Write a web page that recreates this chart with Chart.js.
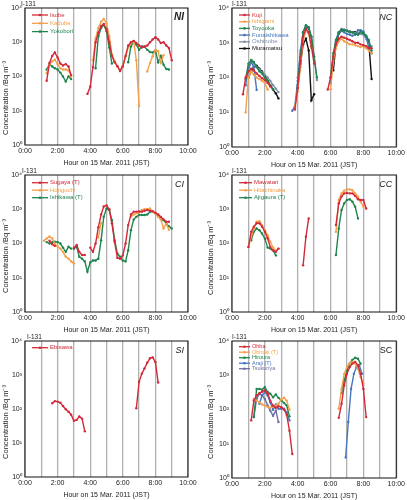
<!DOCTYPE html>
<html>
<head>
<meta charset="utf-8">
<script src="https://cdn.jsdelivr.net/npm/chart.js@4"></script>
<style>
  body { margin: 0; background: #fff; }
  #wrap { position: relative; width: 407px; height: 500px; }
  #wrap canvas { position: absolute; left: 0; top: 0; }
</style>
</head>
<body>
<div id="wrap">
  <canvas id="p1" width="407" height="500"></canvas>
  <canvas id="p2" width="407" height="500"></canvas>
  <canvas id="p3" width="407" height="500"></canvas>
  <canvas id="p4" width="407" height="500"></canvas>
  <canvas id="p5" width="407" height="500"></canvas>
  <canvas id="p6" width="407" height="500"></canvas>
</div>
<script>
// [hour, Bq/m3] pairs, null = break in the record
// NI
var isobe = [[1.33,75],[1.5,250],[1.67,400],[1.83,500],[2,360],[2.17,240],[2.33,210],[2.5,230],[2.67,195],[2.83,110],[3.3,null],[3.83,31],[4,50],[4.17,190],[4.33,1000],[4.5,1900],[4.67,3000],[4.83,3400],[5,2400],[5.17,1000],[5.33,400],[5.5,260],[5.67,200],[5.83,145],[6,200],[6.17,400],[6.33,800],[6.5,1000],[6.67,1100],[6.83,950],[7,800],[7.17,700],[7.33,750],[7.5,800],[7.67,1000],[7.83,1200],[8,1400],[8.17,1200],[8.33,950],[8.5,1000],[8.67,800],[8.83,680],[9,300]];
var kadobe = [[1.33,125],[1.5,220],[1.67,280],[1.83,310],[2,230],[2.17,175],[2.33,160],[2.5,160],[2.67,150],[2.83,100],[3.5,null],[4.17,300],[4.33,1300],[4.5,2600],[4.67,4000],[4.83,4800],[5,3600],[5.17,1500],[5.33,450],[5.5,280],[5.67,200],[5.83,150],[6,190],[6.17,380],[6.33,700],[6.5,950],[6.67,1000],[6.83,300],[7,14],[7.25,null],[7.5,140],[7.67,250],[7.83,390],[8,600],[8.17,550],[8.33,250],[8.5,420]];
var yokobori = [[1.33,160],[1.5,230],[1.67,195],[1.83,175],[2,160],[2.17,130],[2.33,100],[2.5,71],[2.67,100],[2.83,84],[3.5,null],[4.33,175],[4.5,1500],[4.67,2600],[4.83,3250],[5,2100],[5.17,700],[5.33,240],[5.8,null],[6.33,260],[6.5,760],[6.67,1050],[6.83,850],[7,600],[7.17,760],[7.33,740],[7.5,600],[7.67,520],[7.83,500],[8,580],[8.17,260],[8.33,400],[8.5,220],[8.67,165],[8.83,160]];
// NC
var kuji = [[0.67,33],[0.83,100],[1,150],[1.17,180],[1.33,160],[1.5,130],[1.67,110],[1.83,95],[2,85],[2.17,70],[2.33,55],[3,null],[3.83,12],[4,50],[4.17,300],[4.33,1500],[4.5,2500],[4.67,2000],[4.83,800],[5,250],[5.4,null],[5.83,45],[6,100],[6.17,400],[6.33,900],[6.5,1300],[6.67,1500],[6.83,1400],[7,1300],[7.17,1200],[7.33,1100],[7.5,1000],[7.67,1000],[7.83,900],[8,850],[8.17,800],[8.33,700],[8.5,700]];
var ishigami = [[0.83,10],[1,100],[1.17,150],[1.33,120],[1.5,100],[1.67,90],[1.83,80],[2,70],[2.17,45],[3,null],[3.83,15],[4,40],[4.17,200],[4.33,1200],[4.5,2200],[4.67,1800],[4.83,700],[5.4,null],[6,46],[6.17,300],[6.33,700],[6.5,1100],[6.67,1300],[6.83,1100],[7,1000],[7.17,900],[7.33,900],[7.5,850],[7.67,800],[7.83,750],[8,800],[8.17,700],[8.33,600],[8.5,500]];
var toyooka = [[0.83,90],[1,250],[1.17,320],[1.33,280],[1.5,200],[1.67,150],[1.83,130],[2,100],[2.17,80],[2.33,60],[2.5,45],[3,null],[4,60],[4.17,400],[4.33,2000],[4.5,3200],[4.67,2800],[4.83,1500],[5,400],[5.17,100],[5.5,null],[6,100],[6.17,500],[6.33,1200],[6.5,2000],[6.67,2400],[6.83,2300],[7,2200],[7.17,2000],[7.33,2000],[7.5,1800],[7.67,1700],[7.83,2100],[8,1900],[8.17,1600],[8.33,1200],[8.5,600]];
var funaishikawa = [[0.83,60],[1,200],[1.17,270],[1.33,200],[1.5,44],[3,null],[3.67,11],[3.83,15],[4,80],[4.17,600],[4.33,2000],[4.5,2800],[4.67,2500],[4.83,1500],[5,300],[5.5,null],[6,70],[6.17,400],[6.33,1100],[6.5,1800],[6.67,2200],[6.83,2000],[7,1800],[7.17,1700],[7.33,1600],[7.5,1700],[7.67,2300],[7.83,2300],[8,2100],[8.17,1500],[8.33,700],[8.5,500]];
var oshinobe = [[1,150],[1.17,300],[1.33,250],[1.5,200],[1.67,170],[1.83,140],[2,120],[2.17,100],[2.33,80],[2.5,60],[2.67,48],[2.83,38],[3.4,null],[4,100],[4.17,500],[4.33,2000],[4.5,3000],[4.67,2800],[4.83,1500],[5,400],[5.17,85],[5.5,null],[6,80],[6.17,400],[6.33,1200],[6.5,2000],[6.67,2500],[6.83,2400],[7,2300],[7.17,2100],[7.33,2000],[7.5,1900],[7.67,1900],[7.83,1800],[8,1700],[8.17,1300],[8.33,900],[8.5,800]];
var muramatsu = [[1,100],[1.17,150],[1.33,200],[1.5,220],[1.67,180],[1.83,150],[2,110],[2.17,80],[2.33,60],[2.5,45],[2.67,35],[2.83,25],[3.4,null],[4,50],[4.17,250],[4.33,900],[4.5,1300],[4.67,600],[4.83,22],[5,33],[5.5,null],[6.17,160],[6.33,900],[6.5,1800],[6.67,2200],[6.83,2300],[7,2200],[7.17,2100],[7.33,2000],[7.5,2000],[7.67,1900],[7.83,1800],[8,1800],[8.17,1500],[8.33,1000],[8.5,90]];
// CI
var sugaya = [[1.5,120],[1.67,95],[1.83,85],[2.4,null],[3,75],[3.17,90],[3.33,57],[3.5,46],[3.67,46],[3.85,null],[4,76],[4.17,57],[4.33,100],[4.5,300],[4.67,700],[4.83,1200],[5,1300],[5.17,1000],[5.33,390],[5.5,110],[5.67,38],[5.83,36],[6,45],[6.17,100],[6.33,345],[6.5,700],[6.67,850],[6.83,850],[7,860],[7.17,850],[7.33,900],[7.5,950],[7.67,900],[7.83,880],[8,790],[8.17,700],[8.33,600],[8.5,500],[8.67,430],[8.83,430]];
var horiguchi = [[1.17,120],[1.33,140],[1.5,160],[1.67,140],[1.83,100],[2,80],[2.17,70],[2.33,57],[2.5,41],[2.67,36],[2.83,30],[3,26],[4,null],[4.5,150],[4.67,400],[5.5,null],[6.5,600],[6.67,700],[6.83,760],[7,800],[7.17,950],[7.33,1000],[7.5,1000],[7.67,1050],[7.83,850],[8,760],[8.17,600],[8.33,500],[8.5,275],[8.67,380],[8.83,250]];
var ishikawa = [[1.33,110],[1.5,100],[1.67,110],[1.83,112],[2,110],[2.17,100],[2.33,76],[2.5,57],[2.67,80],[2.83,71],[2.92,null],[3,70],[3.17,80],[3.33,41],[3.5,36],[3.67,30],[3.83,15],[4,28],[4.17,32],[4.33,32],[4.5,36],[4.67,125],[4.83,600],[5,1050],[5.17,950],[5.33,480],[5.5,125],[5.67,50],[5.83,41],[6,32],[6.17,30],[6.33,63],[6.5,245],[6.67,500],[6.83,600],[7,680],[7.17,680],[7.33,680],[7.5,700],[7.67,850],[7.83,850],[8,760],[8.17,650],[8.33,550],[8.5,480],[8.67,380],[8.83,320],[9,275]];
// CC
var mawatari = [[1,79],[1.17,220],[1.33,310],[1.5,390],[1.67,390],[1.83,310],[2,220],[2.17,140],[2.33,79],[2.5,63],[2.67,57],[2.83,71],[3.5,null],[4.33,23],[4.5,157],[4.67,540],[5.5,null],[6.33,345],[6.5,1480],[6.67,2340],[6.83,2900],[7,3000],[7.17,2900],[7.33,2900],[7.5,2450],[7.67,1950],[7.83,1860],[8,1860],[8.17,1050]];
var hitachinaka = [[1,79],[1.17,157],[1.33,275],[1.5,430],[1.67,450],[1.83,345],[2,245],[2.17,175],[2.33,112],[2.5,76],[2.67,62],[2.83,70],[4,null],[6.33,220],[6.5,1860],[6.67,2900],[6.83,3470],[7,3800],[7.17,3800],[7.33,3600],[7.5,2900],[7.67,2340],[7.83,1660],[8,1180]];
var ajigaura = [[1.17,125],[1.33,220],[1.5,275],[1.67,245],[1.83,195],[2,140],[2.17,76],[2.33,71],[2.5,63],[2.67,45],[4,null],[6.33,46],[6.5,275],[6.67,950],[6.83,1480],[7,1860],[7.17,1950],[7.33,1660],[7.5,1180],[7.67,540]];
// SI
var ebisawa = [[1.67,147],[1.83,170],[2,165],[2.17,153],[2.33,122],[2.5,98],[2.67,83],[2.83,68],[3,45],[3.17,48],[3.33,60],[3.5,52],[3.67,22],[5,null],[6.83,105],[7,630],[7.17,1100],[7.33,1550],[7.5,2300],[7.67,3100],[7.83,3300],[8,2400],[8.17,600]];
// SC
var ohba = [[1.17,48],[1.33,182],[1.5,257],[1.67,300],[1.83,330],[2,363],[2.17,300],[2.33,180],[2.5,130],[2.67,112],[2.83,125],[3,117],[3.17,100],[3.33,70],[3.5,24],[3.67,5],[5,null],[6.5,57],[6.67,147],[6.83,500],[7,1100],[7.17,1740],[7.33,2190],[7.5,2450],[7.67,1950],[7.83,1100],[8,400],[8.17,60]];
var ohnuki = [[1.33,204],[1.5,182],[1.67,163],[1.83,141],[2,130],[2.17,120],[2.33,112],[2.5,120],[2.67,130],[2.83,147],[3,200],[3.17,220],[3.33,180],[3.5,98],[5,null],[6.5,105],[6.67,400],[6.83,1100],[7,1740],[7.17,2290],[7.33,2450],[7.5,2190],[7.67,1550],[7.83,890],[8,560]];
var hiroura = [[1.33,60],[1.5,400],[1.67,400],[1.83,380],[2,450],[2.17,324],[2.33,288],[2.5,229],[2.67,275],[2.83,219],[3,182],[3.17,155],[3.33,132],[3.5,63],[5,null],[6.67,300],[6.83,710],[7,1380],[7.17,2190],[7.33,2820],[7.5,3240],[7.67,3020],[7.83,2190]];
var araji = [[1.67,147],[1.83,257],[2,324],[2.17,257],[2.33,163],[2.5,98],[2.67,141],[2.83,105],[3,105],[3.17,105],[3.33,83],[3.5,48],[5,null],[6.92,4],[7.08,43],[7.25,400],[7.42,1100],[7.58,1740],[7.75,1950],[7.92,1100]];
var tsukuriya = [[1.33,60],[1.5,204],[1.67,288],[1.83,257],[2,204],[2.17,132],[2.33,93],[2.5,66],[2.67,93],[2.83,43]];

var hourTicks = [0, 2, 4, 6, 8, 10];
var decades = [1, 10, 100, 1000, 10000];

var RED = '#d22a3a', ORANGE = '#f4a04a', GREEN = '#1f854d', BLUE = '#4677bd',
    GRAY = '#7f8fa6', BLACK = '#111111', PURPLE = '#6d6fa6';

Chart.defaults.font.family = '"Liberation Sans", Arial, sans-serif';
Chart.defaults.color = '#222';

var sup = ['\u2070', '\u00b9', '\u00b2', '\u00b3', '\u2074'];

// frame, y title, "I-131", panel tag and the small legend inside the plot
var deco = {
  id: 'panelDeco',
  afterDatasetsDraw: function(chart, args, o) {
    var ctx = chart.ctx, a = chart.chartArea;
    ctx.save();
    ctx.strokeStyle = '#111';
    ctx.lineWidth = 1;
    ctx.strokeRect(a.left, a.top, a.right - a.left, a.bottom - a.top);
    ctx.fillStyle = '#222';
    // y title, sits a bit below the middle of the plot like the original
    ctx.save();
    ctx.translate(chart.scales.y.left + 4.5, o.yTitleY);
    ctx.rotate(-Math.PI / 2);
    ctx.font = '7.5px "Liberation Sans", Arial';
    ctx.textAlign = 'center';
    ctx.textBaseline = 'middle';
    ctx.fillText('Concentration /Bq m\u207b\u00b3', 0, 0);
    ctx.restore();
    ctx.font = '6.5px "Liberation Sans", Arial';
    ctx.textAlign = 'left';
    ctx.textBaseline = 'alphabetic';
    ctx.fillText('I-131', a.left + o.isoDx, a.top - 2);
    ctx.font = o.tagFont;
    ctx.textAlign = 'right';
    ctx.fillText(o.tag, a.right - 4, a.top + 12);
    ctx.font = o.legFont;
    ctx.textAlign = 'left';
    ctx.textBaseline = 'middle';
    chart.data.datasets.forEach(function(ds, i) {
      var y = a.top + o.legTop + i * o.legGap;
      var x0 = a.left + o.legX, x1 = x0 + o.legLen;
      ctx.strokeStyle = ds.borderColor;
      ctx.lineWidth = 1.3;
      ctx.beginPath(); ctx.moveTo(x0, y); ctx.lineTo(x1, y); ctx.stroke();
      ctx.fillStyle = ds.borderColor;
      ctx.beginPath(); ctx.arc((x0 + x1) / 2, y, 1.3, 0, Math.PI * 2); ctx.fill();
      ctx.fillText(ds.label, x1 + 2, y);
    });
    ctx.restore();
  }
};

function panel(id, area, col, deco_opts, series) {
  var YW = col === 0 ? 24 : 26, XH = 22;
  new Chart(document.getElementById(id), {
    type: 'line',
    data: {
      datasets: series.map(function(s) {
        return {
          label: s[0],
          data: s[1].map(function(p) { return {x: p[0], y: p[1]}; }),
          borderColor: s[2],
          backgroundColor: s[2],
          pointBackgroundColor: s[2],
          borderWidth: 1.4,
          pointRadius: 1.2,
          pointBorderWidth: 0,
          tension: 0,
          spanGaps: false
        };
      })
    },
    options: {
      responsive: false,
      animation: false,
      events: [],
      layout: { padding: { left: area.l - YW, top: area.t, right: 407 - area.r, bottom: 500 - area.b - XH } },
      plugins: { legend: { display: false }, tooltip: { enabled: false }, panelDeco: deco_opts },
      scales: {
        x: {
          type: 'linear', min: 0, max: 10,
          afterFit: function(s) { s.height = XH; },
          ticks: {
            stepSize: 1, autoSkip: false, maxRotation: 0, padding: 2,
            font: { size: 7 }, color: '#222',
            callback: function(v) { return hourTicks.indexOf(v) >= 0 ? v + ':00' : ''; }
          },
          grid: { color: '#b0b0b0', lineWidth: 1.3, drawTicks: false },
          border: { display: false },
          title: { display: true, text: 'Hour on 15 Mar. 2011 (JST)', font: { size: 7 }, padding: 0, color: '#222' }
        },
        y: {
          type: 'logarithmic', min: 1, max: 10000,
          afterFit: function(s) { s.width = YW; },
          afterBuildTicks: function(s) { s.ticks = decades.map(function(v) { return {value: v}; }); },
          ticks: {
            padding: 3, font: { size: 7 }, color: '#222',
            callback: function(v) { return '10' + sup[Math.round(Math.log10(v))]; }
          },
          grid: { display: false, drawTicks: false },
          border: { display: false },
          title: { display: false }
        }
      }
    },
    plugins: [deco]
  });
}

panel('p1', {l: 25, t: 8, r: 188, b: 145}, 0,
  {tag: 'NI', tagFont: 'italic bold 10px "Liberation Sans", Arial', isoDx: -4, yTitleY: 98, legFont: '6px "Liberation Sans", Arial', legX: 7, legLen: 16, legTop: 7, legGap: 8.3},
  [['Isobe', isobe, RED], ['Kadobe', kadobe, ORANGE], ['Yokobori', yokobori, GREEN]]);

panel('p2', {l: 232, t: 8, r: 397, b: 147}, 1,
  {tag: 'NC', tagFont: 'italic 9px "Liberation Sans", Arial', isoDx: 0, yTitleY: 98, legFont: '6px "Liberation Sans", Arial', legX: 7, legLen: 11, legTop: 7, legGap: 6.7},
  [['Kuji', kuji, RED], ['Ishigami', ishigami, ORANGE], ['Toyooka', toyooka, GREEN],
   ['Funaishikawa', funaishikawa, BLUE], ['Oshinobe', oshinobe, GRAY], ['Muramatsu', muramatsu, BLACK]]);

panel('p3', {l: 25, t: 175, r: 188, b: 312}, 0,
  {tag: 'CI', tagFont: 'italic 9px "Liberation Sans", Arial', isoDx: -3, yTitleY: 256, legFont: '6px "Liberation Sans", Arial', legX: 7, legLen: 16, legTop: 7.7, legGap: 7.5},
  [['Sugaya (T)', sugaya, RED], ['Horiguchi', horiguchi, ORANGE], ['Ishikawa (T)', ishikawa, GREEN]]);

panel('p4', {l: 232, t: 175, r: 397, b: 312}, 1,
  {tag: 'CC', tagFont: 'italic 9px "Liberation Sans", Arial', isoDx: 0, yTitleY: 258, legFont: '6px "Liberation Sans", Arial', legX: 7, legLen: 13, legTop: 7.7, legGap: 7.5},
  [['Mawatari', mawatari, RED], ['Hitachinaka', hitachinaka, ORANGE], ['Ajigaura (T)', ajigaura, GREEN]]);

panel('p5', {l: 25, t: 341, r: 188, b: 477}, 0,
  {tag: 'SI', tagFont: 'italic 9px "Liberation Sans", Arial', isoDx: 2, yTitleY: 422, legFont: '6px "Liberation Sans", Arial', legX: 7, legLen: 16, legTop: 6.7, legGap: 7.5},
  [['Ebisawa', ebisawa, RED]]);

panel('p6', {l: 232, t: 341, r: 397, b: 478}, 1,
  {tag: 'SC', tagFont: '9px "Liberation Sans", Arial', isoDx: 0, yTitleY: 422, legFont: '5.5px "Liberation Sans", Arial', legX: 7, legLen: 11, legTop: 5.7, legGap: 5.5},
  [['Ohba', ohba, RED], ['Ohnuki (T)', ohnuki, ORANGE], ['Hiroura', hiroura, GREEN],
   ['Araji (T)', araji, BLUE], ['Tsukuriya', tsukuriya, PURPLE]]);
</script>
</body>
</html>
